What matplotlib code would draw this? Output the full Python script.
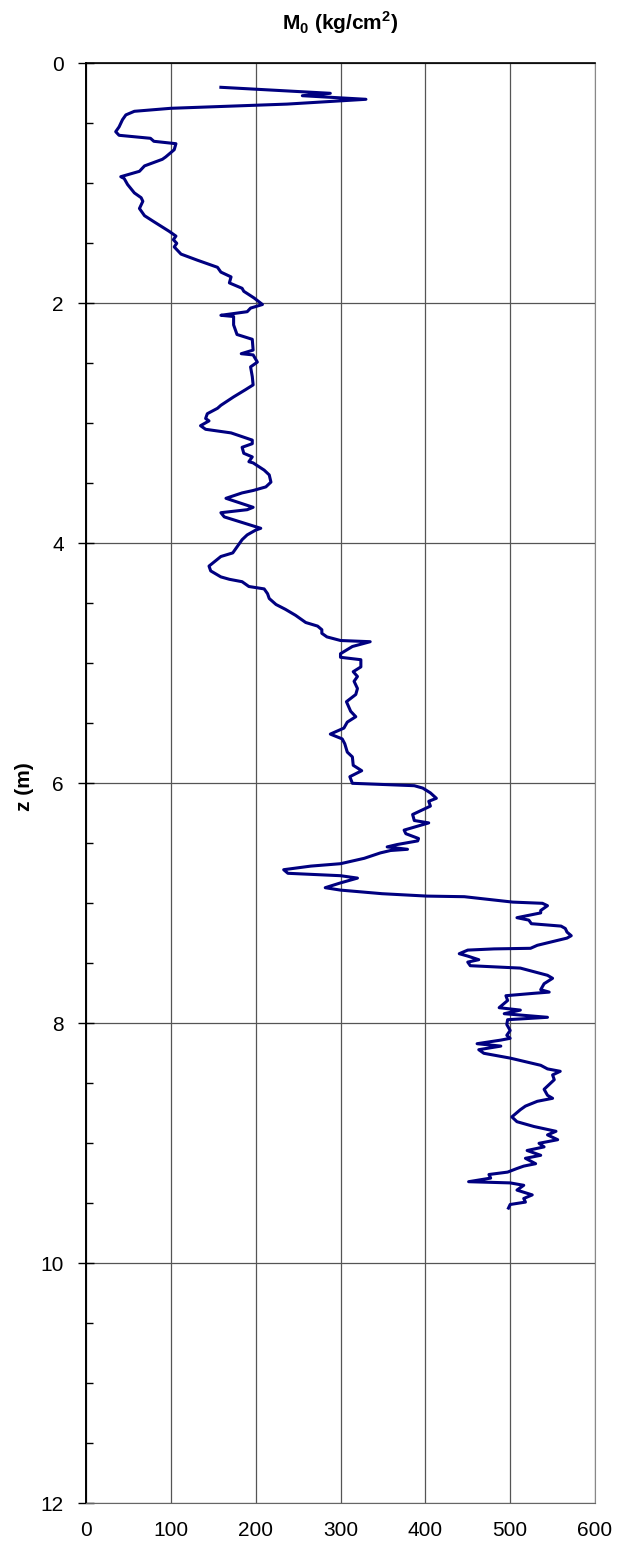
"""plot.py: M0 profile with depth."""

import matplotlib
matplotlib.use('Agg')
import matplotlib.pyplot as plt

plt.rcParams['font.family'] = ['Liberation Sans', 'DejaVu Sans']
plt.rcParams['mathtext.fontset'] = 'custom'
plt.rcParams['mathtext.rm'] = 'Liberation Sans'
plt.rcParams['mathtext.bf'] = 'Liberation Sans:bold'

# depth (m)
z = [0.20, 0.25, 0.27, 0.30, 0.34, 0.375, 0.40, 0.43, 0.47, 0.53,
     0.57, 0.60, 0.625, 0.65, 0.67, 0.72, 0.78, 0.80, 0.855, 0.90,
     0.945, 0.96, 1.01, 1.08, 1.12, 1.15, 1.21, 1.27, 1.32, 1.40,
     1.44, 1.47, 1.50, 1.53, 1.59, 1.64, 1.67, 1.70, 1.74, 1.78,
     1.83, 1.875, 1.90, 1.955, 2.01, 2.04, 2.07, 2.10, 2.11, 2.18,
     2.26, 2.30, 2.39, 2.42, 2.43, 2.49, 2.53, 2.61, 2.68, 2.72,
     2.78, 2.85, 2.875, 2.92, 2.96, 2.98, 3.02, 3.05, 3.08, 3.14,
     3.17, 3.20, 3.25, 3.28, 3.32, 3.33, 3.39, 3.43, 3.49, 3.53,
     3.56, 3.58, 3.625, 3.70, 3.72, 3.745, 3.78, 3.875, 3.89, 3.93,
     3.97, 4.01, 4.08, 4.11, 4.19, 4.23, 4.28, 4.30, 4.32, 4.36,
     4.38, 4.42, 4.46, 4.51, 4.55, 4.60, 4.66, 4.69, 4.72, 4.75,
     4.78, 4.81, 4.82, 4.86, 4.92, 4.95, 4.97, 5.03, 5.07, 5.11,
     5.15, 5.21, 5.26, 5.32, 5.40, 5.445, 5.49, 5.54, 5.59, 5.63,
     5.67, 5.74, 5.78, 5.85, 5.895, 5.945, 6.00, 6.02, 6.04, 6.08,
     6.125, 6.15, 6.19, 6.26, 6.31, 6.33, 6.39, 6.42, 6.46, 6.48,
     6.51, 6.53, 6.55, 6.56, 6.58, 6.625, 6.67, 6.69, 6.72, 6.75,
     6.77, 6.79, 6.83, 6.87, 6.89, 6.92, 6.94, 6.945, 6.99, 7.00,
     7.02, 7.06, 7.08, 7.12, 7.14, 7.17, 7.19, 7.21, 7.24, 7.27,
     7.29, 7.35, 7.375, 7.38, 7.39, 7.42, 7.44, 7.47, 7.49, 7.52,
     7.54, 7.57, 7.60, 7.625, 7.67, 7.72, 7.74, 7.75, 7.77, 7.81,
     7.87, 7.89, 7.92, 7.95, 7.97, 8.01, 8.06, 8.10, 8.125, 8.14,
     8.17, 8.19, 8.22, 8.25, 8.29, 8.35, 8.38, 8.40, 8.43, 8.47,
     8.55, 8.60, 8.625, 8.65, 8.69, 8.72, 8.78, 8.82, 8.86, 8.90,
     8.93, 8.97, 9.00, 9.03, 9.06, 9.10, 9.125, 9.17, 9.19, 9.21,
     9.24, 9.26, 9.29, 9.32, 9.33, 9.35, 9.39, 9.43, 9.46, 9.49,
     9.51, 9.54]

# M0 (kg/cm2) at each depth
m0 = [159, 288, 255, 330, 237, 100, 57, 47, 43, 39,
      35, 39, 76, 80, 106, 104, 94, 90, 69, 63,
      41, 45, 49, 57, 65, 67, 63, 69, 80, 98,
      106, 103, 107, 104, 112, 131, 143, 155, 159, 171,
      169, 184, 186, 198, 208, 194, 190, 159, 174, 174,
      178, 196, 197, 183, 197, 202, 194, 196, 197, 188,
      174, 159, 155, 143, 141, 145, 135, 141, 171, 196,
      196, 184, 186, 196, 192, 197, 210, 216, 218, 212,
      197, 184, 165, 197, 190, 159, 163, 206, 200, 190,
      184, 180, 173, 159, 145, 147, 159, 169, 184, 192,
      210, 214, 216, 224, 235, 247, 259, 273, 278, 278,
      284, 300, 335, 314, 300, 300, 324, 324, 315, 320,
      316, 320, 318, 307, 312, 318, 308, 304, 288, 302,
      305, 308, 314, 315, 325, 311, 314, 387, 397, 406,
      413, 404, 406, 385, 387, 404, 375, 377, 392, 391,
      367, 355, 379, 359, 347, 328, 300, 265, 233, 238,
      300, 320, 300, 282, 300, 349, 402, 446, 503, 538,
      544, 536, 536, 508, 522, 525, 560, 565, 567, 572,
      567, 532, 524, 481, 450, 440, 450, 463, 450, 453,
      512, 528, 544, 550, 540, 536, 546, 528, 495, 497,
      487, 512, 493, 544, 497, 496, 500, 496, 500, 489,
      461, 489, 463, 469, 500, 536, 544, 559, 550, 552,
      540, 544, 550, 532, 518, 512, 502, 508, 528, 554,
      544, 556, 534, 540, 520, 536, 518, 530, 516, 508,
      497, 475, 477, 451, 500, 516, 508, 526, 516, 518,
      500, 498]

x_ticks = [0, 100, 200, 300, 400, 500, 600]
z_ticks = [0, 2, 4, 6, 8, 10, 12]

fig = plt.figure(figsize=(6.2, 15.43), dpi=100)
ax = fig.add_axes([86 / 620, 1 - 1503.3 / 1543, 509 / 620, 1440 / 1543])

ax.plot(m0, z, color='#000080', lw=2.2)

ax.set_xlim(0, 600)
ax.set_ylim(12, 0)
ax.set_xticks(x_ticks)
ax.set_yticks(z_ticks)
ax.set_yticks([v / 2 for v in range(25)], minor=True)

ax.grid(True, which='major', color='#555555', lw=0.9)
ax.set_axisbelow(True)

ax.tick_params(axis='x', which='major', length=0, pad=13, labelsize=15)
ax.tick_params(axis='y', which='major', direction='inout', length=12,
               width=1, pad=10, labelsize=15)
ax.tick_params(axis='y', which='minor', direction='in', length=5, width=1)

ax.spines['left'].set_color('black')
ax.spines['left'].set_linewidth(1.4)
ax.spines['top'].set_color('black')
ax.spines['top'].set_linewidth(1.2)
ax.spines['right'].set_color('#888888')
ax.spines['bottom'].set_color('#666666')

fig.text(340.5 / 620, 1 - 23 / 1543, r'M$_\mathbf{0}$ (kg/cm$^\mathbf{2}$)',
         ha='center', va='center', fontsize=15, fontweight='bold')
fig.text(24 / 620, 1 - 787 / 1543, 'z (m)', rotation=90,
         ha='center', va='center', fontsize=15, fontweight='bold')

plt.savefig('out.png', dpi=100)
